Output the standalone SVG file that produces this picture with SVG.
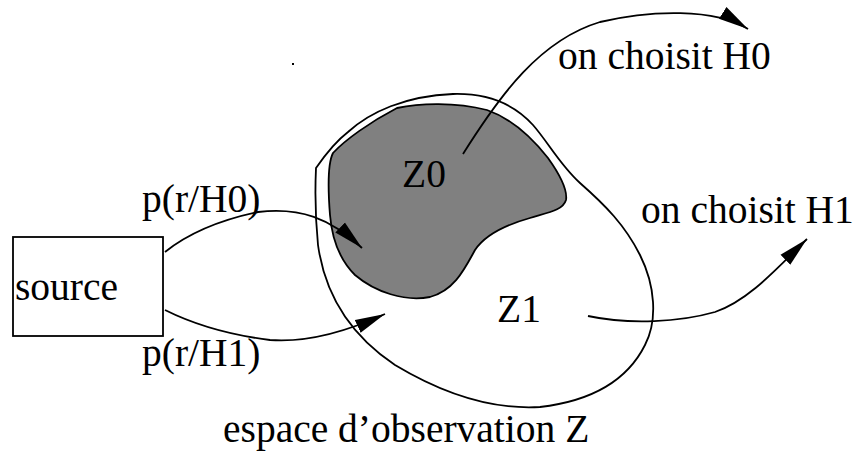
<svg xmlns="http://www.w3.org/2000/svg" width="856" height="457" viewBox="0 0 856 457" font-family="'Liberation Serif', 'Times New Roman', serif" font-size="39.5">
<defs>
<marker id="ah" markerUnits="userSpaceOnUse" markerWidth="32" markerHeight="16" viewBox="0 0 32 16" refX="30" refY="8" orient="auto">
<path d="M0,1 L30,8 L0,15 Z" fill="#000"/>
</marker>
</defs>
<rect width="856" height="457" fill="#fff"/>
<g id="space-Z" fill="none" stroke="#000" stroke-width="1.8">
<path d="M316,168 C325,155 335,142 348,132 C370,112 405,96 453,94 C490,93 515,105 533,125 C548,142 560,165 580,183 C605,205 625,225 640,255 C655,285 658,320 645,345 C630,375 600,400 540,407 C490,410 440,392 395,365 C350,335 325,295 318,245 C315,215 315,190 316,168 Z"/>
</g>
<g id="Z0">
<path fill="#808080" stroke="#000" stroke-width="1.8" d="M397,108 C420,103 455,102 487,110 C510,118 530,135 548,158 C558,172 568,188 566,200 C563,210 550,212 530,218 C505,225 485,235 475,250 C465,268 455,290 430,297 C405,302 375,292 355,275 C340,260 332,240 330,215 C328,190 327,165 333,153 C345,140 370,122 397,108 Z"/>
<text x="402" y="187">Z0</text>
</g>
<g id="Z1">
<text x="497" y="322">Z1</text>
</g>
<g id="source">
<rect fill="none" stroke="#000" stroke-width="1.8" x="13" y="237" width="150" height="99"/>
<text x="15" y="300">source</text>
</g>
<g id="connectors" fill="none" stroke="#000" stroke-width="1.8" marker-end="url(#ah)">
<path d="M165,252 C190,232 225,219 258,212 C300,207 330,218 362,248"/>
<path d="M165,310 C195,325 230,335 270,340 C310,343 350,330 385,314"/>
<path d="M463,154 C500,95 540,40 600,22 C650,10 715,8 748,29"/>
<path d="M588,316 C630,325 680,322 715,312 C750,300 780,265 807,239"/>
</g>
<g id="labels">
<text x="142" y="212">p(r/H0)</text>
<text x="142" y="366">p(r/H1)</text>
<text x="558" y="69">on choisit H0</text>
<text x="641" y="223">on choisit H1</text>
<text x="223" y="442">espace d’observation Z</text>
</g>
<rect x="292" y="63" width="2" height="2" fill="#000"/>
</svg>
